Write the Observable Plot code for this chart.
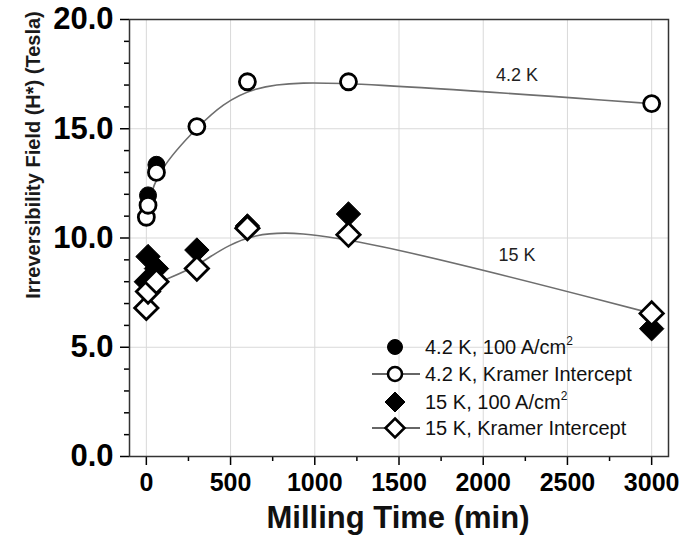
<!DOCTYPE html>
<html>
<head>
<meta charset="utf-8">
<script src="https://cdn.jsdelivr.net/npm/d3@7"></script>
<script src="https://cdn.jsdelivr.net/npm/@observablehq/plot@0.6"></script>
<style>
  body { margin: 0; background: #fff; }
  #chart { position: relative; width: 699px; height: 541px; }
</style>
</head>
<body>
<div id="chart"></div>
<script>
// ---- data ----
const kramer42Time = [0, 10, 60, 300, 600, 1200, 3000];
const kramer42H    = [10.95, 11.5, 13.0, 15.1, 17.15, 17.15, 16.15];
const jc42Time     = [10, 60];
const jc42H        = [11.95, 13.35];
const kramer15Time = [0, 10, 60, 300, 600, 1200, 3000];
const kramer15H    = [6.8, 7.55, 8.0, 8.6, 10.45, 10.15, 6.55];
const jc15Time     = [0, 10, 60, 300, 600, 1200, 3000];
const jc15H        = [8.0, 9.15, 8.6, 9.45, 10.55, 11.1, 5.85];

const xMajor = [0, 500, 1000, 1500, 2000, 2500, 3000];
const xMinor = [250, 750, 1250, 1750, 2250, 2750];
const yMajor = [0, 5, 10, 15, 20];
const yMinor = [1, 2, 3, 4, 6, 7, 8, 9, 11, 12, 13, 14, 16, 17, 18, 19];

const curveLabels = [
  {t: 2200, h: 17.45, text: "4.2 K"},
  {t: 2200, h: 9.2, text: "15 K"}
];
const legendItems = [
  {label: "4.2 K, 100 A/cm", sup: "2", symbol: "circle", fill: "black", line: false},
  {label: "4.2 K, Kramer Intercept", sup: "", symbol: "circle", fill: "white", line: true},
  {label: "15 K, 100 A/cm", sup: "2", symbol: "diamond", fill: "black", line: false},
  {label: "15 K, Kramer Intercept", sup: "", symbol: "diamond", fill: "white", line: true}
];

const zip = (xs, ys) => xs.map((x, i) => ({t: x, h: ys[i]}));
const k42 = zip(kramer42Time, kramer42H);
const j42 = zip(jc42Time, jc42H);
const k15 = zip(kramer15Time, kramer15H);
const j15 = zip(jc15Time, jc15H);

const FONT = "'Liberation Sans', Arial, Helvetica, sans-serif";

const plot = Plot.plot({
  width: 699,
  height: 541,
  marginLeft: 129,
  marginRight: 31,
  marginTop: 19,
  marginBottom: 85,
  style: {fontFamily: FONT, background: "white", color: "black"},
  x: {domain: [-100, 3100]},
  y: {domain: [0, 20]},
  marks: [
    Plot.gridX(xMajor, {stroke: "#d9d9d9", strokeOpacity: 1, strokeWidth: 1}),
    Plot.gridY(yMajor, {stroke: "#d9d9d9", strokeOpacity: 1, strokeWidth: 1}),
    Plot.axisX(xMajor, {tickSize: 9, tickPadding: 8, fontSize: 25, fontWeight: "bold", tickFormat: d => String(d), label: null, strokeWidth: 1.5}),
    Plot.axisX(xMinor, {tickSize: 5, tickFormat: () => "", label: null, strokeWidth: 1.5}),
    Plot.axisY(yMajor, {tickSize: 9, tickPadding: 7, fontSize: 31, fontWeight: "bold", tickFormat: d3.format(".1f"), label: null, strokeWidth: 1.5}),
    Plot.axisY(yMinor, {tickSize: 5, tickFormat: () => "", label: null, strokeWidth: 1.5}),
    Plot.line(k42, {x: "t", y: "h", curve: "basis", stroke: "#6e6e6e", strokeWidth: 1.6}),
    Plot.line(k15, {x: "t", y: "h", curve: "basis", stroke: "#6e6e6e", strokeWidth: 1.6}),
    Plot.dot(j42, {x: "t", y: "h", r: 8.5, fill: "black", stroke: "black", strokeWidth: 1}),
    Plot.dot(k42, {x: "t", y: "h", r: 8, fill: "white", stroke: "black", strokeWidth: 2.8}),
    Plot.dot(j15, {x: "t", y: "h", r: 11, symbol: "diamond2", fill: "black", stroke: "black", strokeWidth: 1}),
    Plot.dot(k15, {x: "t", y: "h", r: 10.5, symbol: "diamond2", fill: "white", stroke: "black", strokeWidth: 2.8}),
    Plot.text(curveLabels, {x: "t", y: "h", text: "text", fontSize: 18, fill: "#222"}),
    Plot.frame({stroke: "#333", strokeWidth: 1.5})
  ]
});

document.getElementById("chart").appendChild(plot);

const svg = d3.select(plot);
// axis titles
svg.append("text")
  .attr("transform", "translate(40,155) rotate(-90)")
  .attr("text-anchor", "middle")
  .attr("font-family", FONT)
  .attr("font-size", 20)
  .attr("font-weight", "bold")
  .attr("fill", "#1a1a1a")
  .text("Irreversibility Field (H*) (Tesla)");
svg.append("text")
  .attr("x", 398)
  .attr("y", 528)
  .attr("text-anchor", "middle")
  .attr("font-family", FONT)
  .attr("font-size", 31)
  .attr("font-weight", "bold")
  .attr("fill", "#111")
  .text("Milling Time (min)");

// legend
const lg = svg.append("g").attr("font-family", FONT).attr("text-anchor", "start");
const rowY = [347, 374, 402, 428];
legendItems.forEach((d, i) => {
  const y = rowY[i];
  const g = lg.append("g");
  if (d.line) {
    g.append("line").attr("x1", 372).attr("x2", 420).attr("y1", y).attr("y2", y)
      .attr("stroke", "#333").attr("stroke-width", 1.5);
  }
  if (d.symbol === "circle") {
    g.append("circle").attr("cx", 395).attr("cy", y).attr("r", d.fill === "black" ? 7.5 : 7)
      .attr("fill", d.fill).attr("stroke", "black").attr("stroke-width", d.fill === "black" ? 1 : 2.6);
  } else {
    const s = d.fill === "black" ? 10 : 9.5;
    g.append("path").attr("d", `M395,${y - s}L${395 + s},${y}L395,${y + s}L${395 - s},${y}Z`)
      .attr("fill", d.fill).attr("stroke", "black").attr("stroke-width", d.fill === "black" ? 1 : 2.6);
  }
  const t = g.append("text").attr("x", 425).attr("y", y + 7).attr("font-size", 20)
    .attr("text-anchor", "start").attr("fill", "#111");
  t.append("tspan").text(d.label);
  if (d.sup) t.append("tspan").attr("dy", -9).attr("font-size", 12).text(d.sup);
});
</script>
</body>
</html>
